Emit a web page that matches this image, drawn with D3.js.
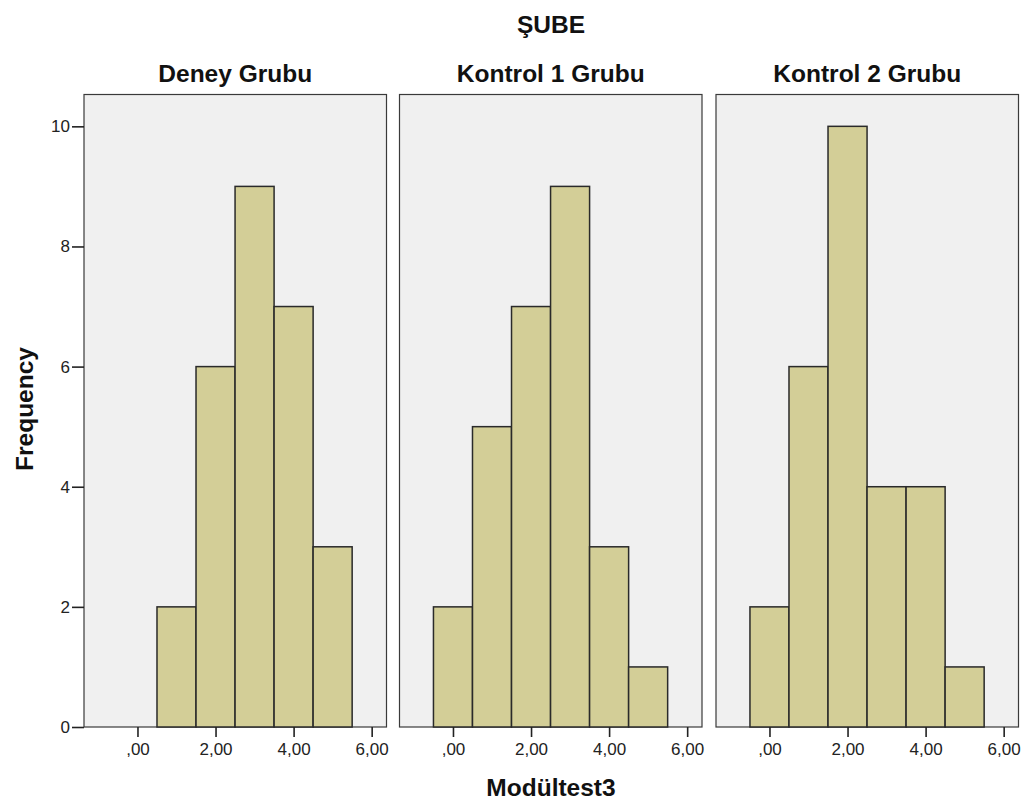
<!DOCTYPE html>
<html><head><meta charset="utf-8">
<script src="https://cdn.jsdelivr.net/npm/d3@7"></script>
<style>body{margin:0;background:#fff;} text{font-family:"Liberation Sans",Arial,sans-serif;}</style>
</head><body>
<svg id="c" width="1027" height="804"></svg>
<script>
const panels = ["Deney Grubu", "Kontrol 1 Grubu", "Kontrol 2 Grubu"];
const binCenters = [0, 1, 2, 3, 4, 5];
const deneyCounts = [0, 2, 6, 9, 7, 3];
const kontrol1Counts = [2, 5, 7, 9, 3, 1];
const kontrol2Counts = [2, 6, 10, 4, 4, 1];
const allCounts = [deneyCounts, kontrol1Counts, kontrol2Counts];
const xTicks = [0, 2, 4, 6];
const yTicks = [0, 2, 4, 6, 8, 10];
const title = "ŞUBE", xTitle = "Modültest3", yTitle = "Frequency";

const svg = d3.select("#c");
const panelLefts = [84, 399.5, 716];
const panelW = 302.5;
const plotTop = 94.5, plotBottom = 727;
const y = d3.scaleLinear().domain([0, 10.53]).range([plotBottom, plotTop]);
const fmt = d => d === 0 ? ",00" : d3.format(".2f")(d).replace(".", ",");
const titleSize = 24.5, tickSize = 17;

svg.append("text").attr("x", 551).attr("y", 33).attr("text-anchor", "middle")
  .attr("font-size", titleSize).attr("font-weight", "bold").attr("fill", "#111").text(title);
svg.append("text").attr("x", 551).attr("y", 796).attr("text-anchor", "middle")
  .attr("font-size", titleSize).attr("font-weight", "bold").attr("fill", "#111").text(xTitle);
svg.append("text").attr("transform", "translate(33,409) rotate(-90)").attr("text-anchor", "middle")
  .attr("font-size", titleSize).attr("font-weight", "bold").attr("fill", "#111").text(yTitle);

panels.forEach((name, i) => {
  const L = panelLefts[i];
  const x = d3.scaleLinear().domain([-1.37, 6.38]).range([L, L + panelW]);
  const g = svg.append("g");
  g.append("rect").attr("x", L).attr("y", plotTop).attr("width", panelW).attr("height", plotBottom - plotTop)
    .attr("fill", "#f0f0f0").attr("stroke", "#3a3a3a").attr("stroke-width", 1.2);
  g.append("text").attr("x", L + panelW / 2).attr("y", 82).attr("text-anchor", "middle")
    .attr("font-size", titleSize).attr("font-weight", "bold").attr("fill", "#111").text(name);
  const data = binCenters.map((c, j) => ({c, v: allCounts[i][j]})).filter(d => d.v > 0);
  g.selectAll("rect.bar").data(data).join("rect").attr("class", "bar")
    .attr("x", d => x(d.c - 0.5)).attr("width", d => x(d.c + 0.5) - x(d.c - 0.5))
    .attr("y", d => y(d.v)).attr("height", d => y(0) - y(d.v))
    .attr("fill", "#d3ce97").attr("stroke", "#2a2a2a").attr("stroke-width", 1.5);
  const xa = g.append("g").attr("transform", `translate(0,${plotBottom})`)
    .call(d3.axisBottom(x).tickValues(xTicks).tickFormat(fmt).tickSize(10).tickPadding(6));
  xa.select(".domain").remove();
  xa.selectAll("line").attr("stroke", "#222").attr("stroke-width", 1.6);
  xa.selectAll("text").attr("font-size", tickSize).attr("fill", "#222").attr("font-family", "Liberation Sans, Arial, sans-serif");
  if (i === 0) {
    const ya = g.append("g").attr("transform", `translate(${L},0)`)
      .call(d3.axisLeft(y).tickValues(yTicks).tickFormat(d3.format("d")).tickSize(12).tickPadding(2));
    ya.select(".domain").remove();
    ya.selectAll("line").attr("stroke", "#222").attr("stroke-width", 1.6);
    ya.selectAll("text").attr("font-size", tickSize).attr("fill", "#222").attr("font-family", "Liberation Sans, Arial, sans-serif");
  }
});
</script>
</body></html>
